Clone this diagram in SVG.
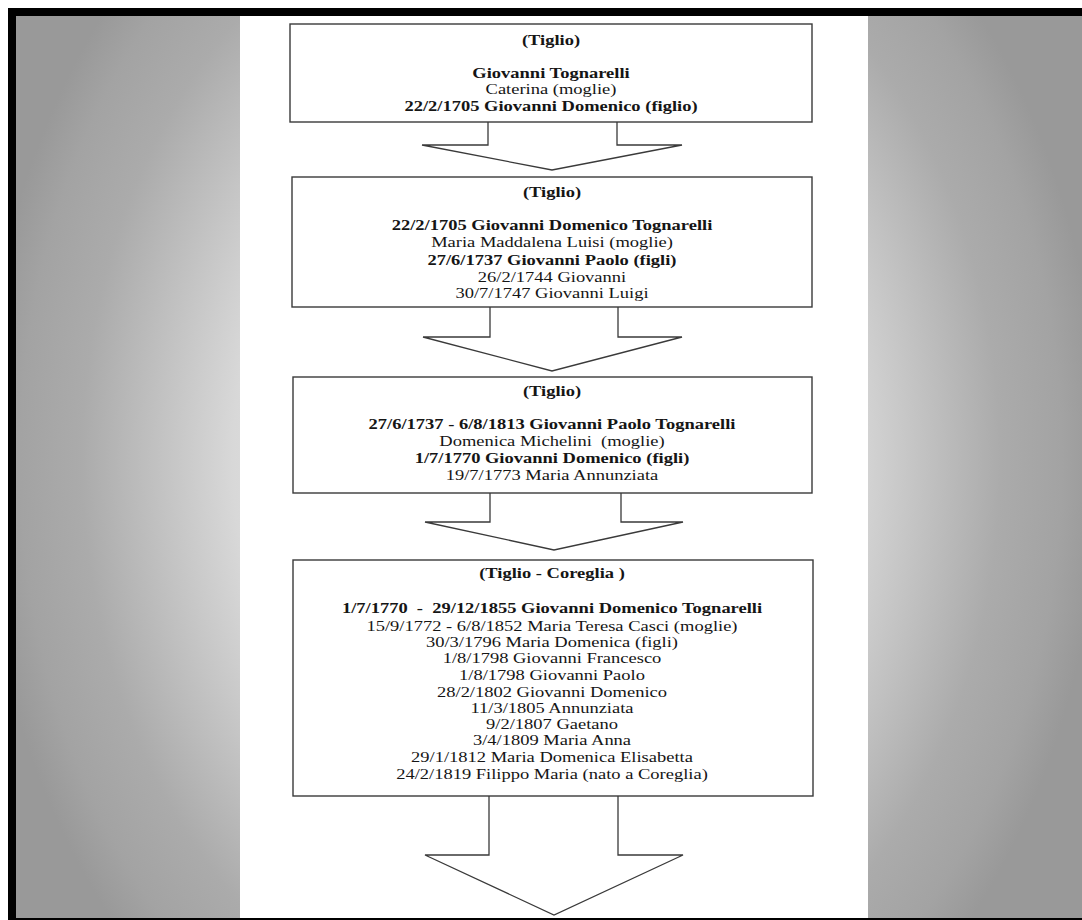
<svg xmlns="http://www.w3.org/2000/svg" width="1082" height="920" viewBox="0 0 1082 920">
<defs>
<radialGradient id="bg" gradientUnits="userSpaceOnUse" cx="541" cy="460" r="560" gradientTransform="translate(541 460) scale(1 1.28) translate(-541 -460)">
<stop offset="0" stop-color="#ffffff"/>
<stop offset="0.55" stop-color="#d8d8d8"/>
<stop offset="0.82" stop-color="#ababab"/>
<stop offset="0.93" stop-color="#a3a3a3"/>
<stop offset="1" stop-color="#999999"/>
</radialGradient>
<style>
.box{fill:#ffffff;stroke:#3a3a3a;stroke-width:1.4}
.arr{fill:#ffffff;stroke:#3a3a3a;stroke-width:1.3;stroke-linejoin:miter}
text{font-family:"Liberation Serif","Times New Roman",serif;font-size:15px;fill:#151515;text-anchor:middle}
.b{font-weight:bold}
</style>
</defs>
<rect x="0" y="0" width="1082" height="920" fill="#ffffff"/>
<rect x="8" y="8" width="1074" height="912" fill="#000000"/>
<rect x="16" y="16" width="1066" height="902" fill="url(#bg)"/>
<rect x="240" y="16" width="628" height="902" fill="#ffffff"/>

<g id="connectors">
<path class="arr" d="M488,122 V145 H422 L552,170 L682,145 H617 V122"/>
<path class="arr" d="M490,307 V337 H423 L552,371 L682,337 H618 V307"/>
<path class="arr" d="M490,493 V522 H425 L554,550 L683,522 H621 V493"/>
<path class="arr" d="M489,796 V855 H425 L554,915 L683,855 H618 V796"/>
</g>

<g id="node1">
<rect class="box" x="290" y="24" width="522" height="98"/>
<g transform="translate(551 0) scale(1.233 1)">
<text class="b" x="0" y="45">(Tiglio)</text>
<text class="b" x="0" y="78">Giovanni Tognarelli</text>
<text x="0" y="94">Caterina (moglie)</text>
<text class="b" x="0" y="111">22/2/1705 Giovanni Domenico (figlio)</text>
</g>
</g>

<g id="node2">
<rect class="box" x="292" y="177" width="520" height="130"/>
<g transform="translate(552 0) scale(1.233 1)">
<text class="b" x="0" y="197">(Tiglio)</text>
<text class="b" x="0" y="230">22/2/1705 Giovanni Domenico Tognarelli</text>
<text x="0" y="247">Maria Maddalena Luisi (moglie)</text>
<text class="b" x="0" y="265">27/6/1737 Giovanni Paolo (figli)</text>
<text x="0" y="282">26/2/1744 Giovanni</text>
<text x="0" y="298">30/7/1747 Giovanni Luigi</text>
</g>
</g>

<g id="node3">
<rect class="box" x="293" y="377" width="519" height="116"/>
<g transform="translate(552 0) scale(1.233 1)">
<text class="b" x="0" y="396">(Tiglio)</text>
<text class="b" x="0" y="429">27/6/1737 - 6/8/1813 Giovanni Paolo Tognarelli</text>
<text x="0" y="446" xml:space="preserve">Domenica Michelini  (moglie)</text>
<text class="b" x="0" y="463">1/7/1770 Giovanni Domenico (figli)</text>
<text x="0" y="480">19/7/1773 Maria Annunziata</text>
</g>
</g>

<g id="node4">
<rect class="box" x="293" y="560" width="520" height="236"/>
<g transform="translate(552 0) scale(1.233 1)">
<text class="b" x="0" y="578">(Tiglio - Coreglia )</text>
<text class="b" x="0" y="613" xml:space="preserve">1/7/1770  -  29/12/1855 Giovanni Domenico Tognarelli</text>
<text x="0" y="631">15/9/1772 - 6/8/1852 Maria Teresa Casci (moglie)</text>
<text x="0" y="647">30/3/1796 Maria Domenica (figli)</text>
<text x="0" y="663">1/8/1798 Giovanni Francesco</text>
<text x="0" y="680">1/8/1798 Giovanni Paolo</text>
<text x="0" y="697">28/2/1802 Giovanni Domenico</text>
<text x="0" y="713">11/3/1805 Annunziata</text>
<text x="0" y="729">9/2/1807 Gaetano</text>
<text x="0" y="745">3/4/1809 Maria Anna</text>
<text x="0" y="762">29/1/1812 Maria Domenica Elisabetta</text>
<text x="0" y="779">24/2/1819 Filippo Maria (nato a Coreglia)</text>
</g>
</g>
</svg>
